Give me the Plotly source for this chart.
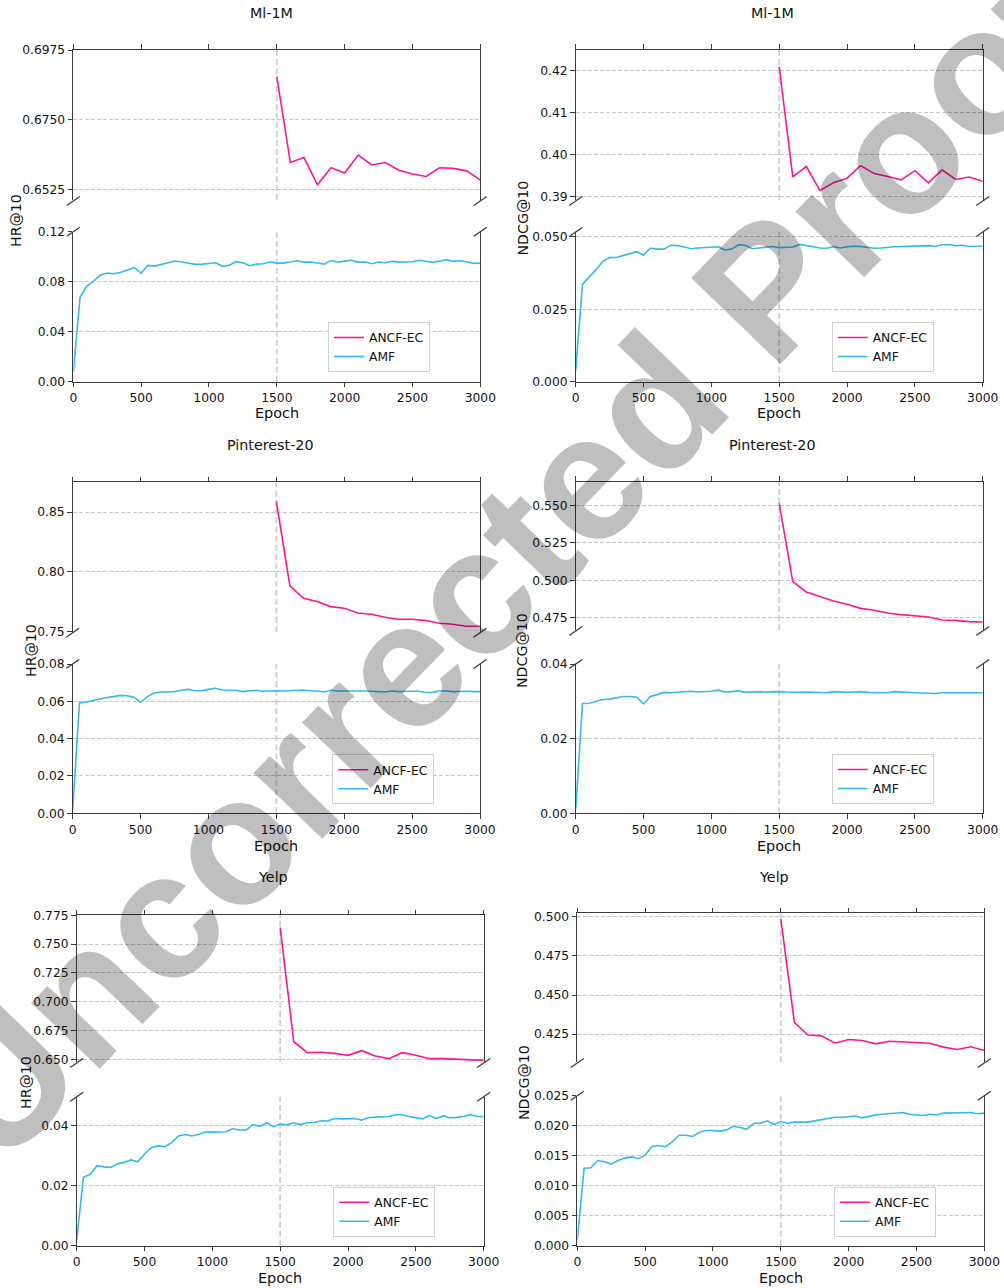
import plotly.graph_objects as go

W, H = 1004, 1288

# ---------------- data ----------------
epochs_amf = list(range(0, 3001, 50))
epochs_ancf = list(range(1500, 3001, 100))
x_ticks = [0, 500, 1000, 1500, 2000, 2500, 3000]

panel_titles = ["Ml-1M", "Ml-1M", "Pinterest-20", "Pinterest-20", "Yelp", "Yelp"]
y_labels = ["HR@10", "NDCG@10", "HR@10", "NDCG@10", "HR@10", "NDCG@10"]
series_names = ["ANCF-EC", "AMF"]

ml_hr_ancf = [0.6889, 0.6612, 0.6628, 0.6540, 0.6595, 0.6578, 0.6636, 0.6604,
              0.6612, 0.6587, 0.6575, 0.6567, 0.6595, 0.6593, 0.6585, 0.6555]
ml_hr_amf = [0.008, 0.0675, 0.0765, 0.0805, 0.0853, 0.0869, 0.0864, 0.0875, 0.0893, 0.0912,
             0.0869, 0.0931, 0.0925, 0.0939, 0.0957, 0.0965, 0.0957, 0.0947, 0.0939, 0.0941,
             0.0947, 0.0952, 0.0923, 0.0931, 0.0960, 0.0952, 0.0928, 0.0941, 0.0944, 0.0960,
             0.0949, 0.0949, 0.0957, 0.0968, 0.0957, 0.0957, 0.0949, 0.0941, 0.0971, 0.0957,
             0.0965, 0.0971, 0.0957, 0.0957, 0.0944, 0.0957, 0.0952, 0.0963, 0.0957, 0.0960,
             0.0960, 0.0971, 0.0965, 0.0955, 0.0965, 0.0976, 0.0963, 0.0968, 0.0960, 0.0947, 0.0949]

ml_ndcg_ancf = [0.4210, 0.3947, 0.3972, 0.3915, 0.3933, 0.3944, 0.3974, 0.3955,
                0.3948, 0.3940, 0.3962, 0.3933, 0.3964, 0.3941, 0.3947, 0.3937]
ml_ndcg_amf = [0.004, 0.0336, 0.0362, 0.0387, 0.0416, 0.0429, 0.0429, 0.0435, 0.0441, 0.0449,
               0.0437, 0.0461, 0.0458, 0.0458, 0.0471, 0.0470, 0.0465, 0.0459, 0.0462, 0.0463,
               0.0463, 0.0466, 0.0455, 0.0458, 0.0473, 0.0471, 0.0459, 0.0461, 0.0465, 0.0467,
               0.0463, 0.0463, 0.0465, 0.0474, 0.0469, 0.0466, 0.0462, 0.0461, 0.0466, 0.0462,
               0.0466, 0.0468, 0.0467, 0.0465, 0.0461, 0.0462, 0.0465, 0.0466, 0.0467, 0.0467,
               0.0468, 0.0469, 0.0470, 0.0467, 0.0473, 0.0474, 0.0470, 0.0471, 0.0467, 0.0467, 0.0468]

pin_hr_ancf = [0.8589, 0.7883, 0.7780, 0.7752, 0.7710, 0.7696, 0.7657, 0.7646,
               0.7621, 0.7604, 0.7604, 0.7593, 0.7571, 0.7562, 0.7546, 0.7546]
pin_hr_amf = [0.002, 0.0591, 0.0596, 0.0605, 0.0614, 0.0620, 0.0625, 0.0632, 0.0630, 0.0622,
              0.0595, 0.0625, 0.0645, 0.0650, 0.0650, 0.0652, 0.0659, 0.0664, 0.0657, 0.0657,
              0.0664, 0.0670, 0.0661, 0.0659, 0.0659, 0.0652, 0.0655, 0.0659, 0.0654, 0.0657,
              0.0657, 0.0655, 0.0657, 0.0659, 0.0661, 0.0655, 0.0655, 0.0650, 0.0659, 0.0655,
              0.0654, 0.0655, 0.0655, 0.0655, 0.0654, 0.0655, 0.0650, 0.0655, 0.0652, 0.0654,
              0.0655, 0.0654, 0.0647, 0.0648, 0.0655, 0.0657, 0.0652, 0.0654, 0.0654, 0.0652, 0.0652]

pin_ndcg_ancf = [0.5513, 0.4992, 0.4923, 0.4892, 0.4863, 0.4841, 0.4814, 0.4801,
                 0.4783, 0.4772, 0.4765, 0.4757, 0.4737, 0.4734, 0.4726, 0.4723]
pin_ndcg_amf = [0.001, 0.0294, 0.0295, 0.0300, 0.0305, 0.0306, 0.0310, 0.0313, 0.0313, 0.0311,
                0.0293, 0.0313, 0.0318, 0.0324, 0.0323, 0.0324, 0.0326, 0.0327, 0.0325, 0.0325,
                0.0327, 0.0330, 0.0325, 0.0326, 0.0328, 0.0324, 0.0325, 0.0326, 0.0325, 0.0326,
                0.0326, 0.0325, 0.0324, 0.0324, 0.0325, 0.0325, 0.0324, 0.0323, 0.0326, 0.0324,
                0.0324, 0.0325, 0.0326, 0.0324, 0.0323, 0.0324, 0.0323, 0.0326, 0.0324, 0.0324,
                0.0323, 0.0322, 0.0321, 0.0321, 0.0323, 0.0323, 0.0322, 0.0322, 0.0323, 0.0323, 0.0323]

yelp_hr_ancf = [0.7643, 0.6653, 0.6558, 0.6561, 0.6552, 0.6535, 0.6575, 0.6529,
                0.6506, 0.6558, 0.6535, 0.6506, 0.6506, 0.6503, 0.6500, 0.6491]
yelp_hr_amf = [0.002, 0.0228, 0.0238, 0.0267, 0.0263, 0.0261, 0.0273, 0.0278, 0.0286, 0.0280,
               0.0306, 0.0328, 0.0333, 0.0330, 0.0344, 0.0366, 0.0371, 0.0366, 0.0372, 0.0379,
               0.0379, 0.0379, 0.0380, 0.0390, 0.0386, 0.0386, 0.0404, 0.0398, 0.0410, 0.0397,
               0.0406, 0.0403, 0.0409, 0.0404, 0.0410, 0.0411, 0.0417, 0.0416, 0.0424, 0.0423,
               0.0423, 0.0424, 0.0419, 0.0427, 0.0429, 0.0430, 0.0431, 0.0437, 0.0437, 0.0431,
               0.0427, 0.0423, 0.0434, 0.0424, 0.0433, 0.0427, 0.0428, 0.0431, 0.0437, 0.0431, 0.0431]

yelp_ndcg_ancf = [0.4987, 0.4325, 0.4244, 0.4239, 0.4192, 0.4216, 0.4209, 0.4188,
                  0.4205, 0.4201, 0.4199, 0.4192, 0.4167, 0.4152, 0.4169, 0.4145]
yelp_ndcg_amf = [0.001, 0.0129, 0.0130, 0.0142, 0.0140, 0.0136, 0.0142, 0.0146, 0.0148, 0.0145,
                 0.0151, 0.0165, 0.0167, 0.0165, 0.0173, 0.0184, 0.0184, 0.0182, 0.0189, 0.0192,
                 0.0192, 0.0191, 0.0193, 0.0199, 0.0197, 0.0194, 0.0204, 0.0204, 0.0208, 0.0202,
                 0.0207, 0.0204, 0.0206, 0.0206, 0.0206, 0.0208, 0.0210, 0.0211, 0.0214, 0.0214,
                 0.0215, 0.0216, 0.0213, 0.0216, 0.0218, 0.0219, 0.0220, 0.0222, 0.0222, 0.0219,
                 0.0218, 0.0217, 0.0219, 0.0218, 0.0221, 0.0221, 0.0221, 0.0221, 0.0222, 0.0220, 0.0221]

ancf_series = [ml_hr_ancf, ml_ndcg_ancf, pin_hr_ancf, pin_ndcg_ancf, yelp_hr_ancf, yelp_ndcg_ancf]
amf_series = [ml_hr_amf, ml_ndcg_amf, pin_hr_amf, pin_ndcg_amf, yelp_hr_amf, yelp_ndcg_amf]

top_ticks = [[0.6525, 0.6750, 0.6975], [0.39, 0.40, 0.41, 0.42], [0.75, 0.80, 0.85],
             [0.475, 0.500, 0.525, 0.550], [0.650, 0.675, 0.700, 0.725, 0.750, 0.775],
             [0.425, 0.450, 0.475, 0.500]]
bot_ticks = [[0.0, 0.04, 0.08, 0.12], [0.0, 0.025, 0.050], [0.0, 0.02, 0.04, 0.06, 0.08],
             [0.0, 0.02, 0.04], [0.0, 0.02, 0.04], [0.0, 0.005, 0.010, 0.015, 0.020, 0.025]]
top_fmt = [".4f", ".2f", ".2f", ".3f", ".3f", ".3f"]
bot_fmt = [".2f", ".3f", ".2f", ".2f", ".2f", ".3f"]

# ---------------- layout / style ----------------
top_range = [[0.6491, 0.6975], [0.3892, 0.4250], [0.75, 0.875], [0.467, 0.5657],
             [0.6477, 0.775], [0.4072, 0.5022]]
bot_range = [[0, 0.12], [0, 0.0517], [0, 0.08], [0, 0.04], [0, 0.0497], [0, 0.025]]

# pixel geometry: x-left, x-right, top-top, top-bottom, bottom-top, bottom-bottom
geom = [
    (73.3, 480.3, 50.0, 200.0, 231.7, 381.7),
    (575.7, 982.7, 50.0, 200.0, 232.0, 381.7),
    (72.7, 480.0, 482.3, 631.7, 664.0, 813.3),
    (575.7, 982.7, 481.7, 630.0, 664.0, 813.3),
    (76.7, 483.7, 915.3, 1062.0, 1096.7, 1245.7),
    (577.3, 984.3, 913.3, 1062.0, 1095.7, 1245.7),
]
title_pos = [(271, 13), (772, 13), (270, 445), (772, 445), (273, 877), (774, 877)]
ylab_pos = [(16, 221), (522.5, 218), (31, 651), (522, 651), (26, 1083), (524, 1083)]
epoch_pos = [(277, 413), (779, 413), (276, 846), (779, 846), (280, 1278), (781, 1278)]
legend_pos = [(328, 322), (831.7, 322), (332.3, 754.3), (831.7, 754), (333.3, 1186.7), (834, 1186.7)]

PINK = "#FF1493"
BLUE = "#35B9F0"
AX = "#3a3a3a"
GRID = "#c4c4c4"
TXT = "#111111"
FONT = "DejaVu Sans"


def fx(px):
    return px / W


def fy(py):
    return 1 - py / H


def ref(i, a):
    return a if i == 1 else f"{a}{i}"


def axname(i, a):
    return f"{a}axis" if i == 1 else f"{a}axis{i}"


fig = go.Figure()
layout = dict(width=W, height=H, margin=dict(l=0, r=0, t=0, b=0, pad=0, autoexpand=False),
              paper_bgcolor="white", plot_bgcolor="white", showlegend=True)
shapes = []
annotations = []

common_x = dict(range=[0, 3000], tickmode="array", tickvals=x_ticks, ticks="outside",
                ticklen=4.5, tickwidth=1.2, tickcolor=AX, showline=True, linecolor=AX,
                linewidth=1.3, showgrid=False, zeroline=False, automargin=False,
                tickfont=dict(family=FONT, size=12.3, color=TXT))
common_y = dict(tickmode="array", ticks="outside", ticklen=4.5, tickwidth=1.2, tickcolor=AX,
                showline=True, mirror=True, linecolor=AX, linewidth=1.3, showgrid=True,
                gridcolor=GRID, gridwidth=1, griddash="4px,2px", zeroline=False, automargin=False,
                tickfont=dict(family=FONT, size=12.3, color=TXT))

for p in range(6):
    it, ib = 2 * p + 1, 2 * p + 2
    lg = "legend" if p == 0 else f"legend{p + 1}"
    xl, xr, tt, tb, bt, bb = geom[p]

    fig.add_trace(go.Scatter(x=epochs_ancf, y=ancf_series[p], mode="lines", name=series_names[0],
                             line=dict(color=PINK, width=1.6), xaxis=ref(it, "x"), yaxis=ref(it, "y"),
                             legend=lg))
    fig.add_trace(go.Scatter(x=epochs_amf, y=amf_series[p], mode="lines", name=series_names[1],
                             line=dict(color=BLUE, width=1.6), xaxis=ref(ib, "x"), yaxis=ref(ib, "y"),
                             legend=lg))

    layout[axname(it, "x")] = dict(common_x, domain=[fx(xl), fx(xr)], anchor=ref(it, "y"),
                                   side="top", showticklabels=False)
    layout[axname(ib, "x")] = dict(common_x, domain=[fx(xl), fx(xr)], anchor=ref(ib, "y"),
                                   side="bottom")
    layout[axname(it, "y")] = dict(common_y, domain=[fy(tb), fy(tt)], anchor=ref(it, "x"),
                                   range=top_range[p], tickvals=top_ticks[p], tickformat=top_fmt[p])
    layout[axname(ib, "y")] = dict(common_y, domain=[fy(bb), fy(bt)], anchor=ref(ib, "x"),
                                   range=bot_range[p], tickvals=bot_ticks[p], tickformat=bot_fmt[p])

    # vertical dashed marker at epoch 1500
    for i in (it, ib):
        shapes.append(dict(type="line", xref=ref(i, "x"), yref=ref(i, "y") + " domain",
                           x0=1500, x1=1500, y0=0, y1=1, layer="below",
                           line=dict(color="#cfcfcf", width=1.8, dash="6px,3px")))

    # broken-axis diagonal marks
    for cx in (xl, xr):
        for cy in (tb + 1, bt):
            shapes.append(dict(type="line", xref="paper", yref="paper",
                               x0=fx(cx - 6.5), y0=fy(cy + 4.5), x1=fx(cx + 6.5), y1=fy(cy - 4.5),
                               line=dict(color=AX, width=1.3)))

    tx, ty = title_pos[p]
    annotations.append(dict(text=panel_titles[p], x=fx(tx), y=fy(ty), xref="paper", yref="paper",
                            showarrow=False, xanchor="center", yanchor="middle",
                            font=dict(family=FONT, size=14.3, color=TXT)))
    lx, ly = ylab_pos[p]
    annotations.append(dict(text=y_labels[p], x=fx(lx), y=fy(ly), xref="paper", yref="paper",
                            showarrow=False, textangle=-90, xanchor="center", yanchor="middle",
                            font=dict(family=FONT, size=14.2, color=TXT)))
    ex, ey = epoch_pos[p]
    annotations.append(dict(text="Epoch", x=fx(ex), y=fy(ey), xref="paper", yref="paper",
                            showarrow=False, xanchor="center", yanchor="middle",
                            font=dict(family=FONT, size=14.4, color=TXT)))

    gx, gy = legend_pos[p]
    layout[lg] = dict(x=fx(gx), y=fy(gy), xref="paper", yref="paper", xanchor="left", yanchor="top",
                      bgcolor="white", bordercolor="#d0d0d0", borderwidth=1, itemwidth=30,
                      tracegroupgap=0, font=dict(family=FONT, size=12.3, color=TXT))

# proof watermark
annotations.append(dict(text="<b>Uncorrected Proof</b>", x=fx(505), y=fy(560), xref="paper",
                        yref="paper", showarrow=False, textangle=-46, xanchor="center",
                        yanchor="middle",
                        font=dict(family="Liberation Sans", size=180, color="rgba(0,0,0,0.25)")))

layout["shapes"] = shapes
layout["annotations"] = annotations
fig.update_layout(**layout)
fig.write_html("out.html")
